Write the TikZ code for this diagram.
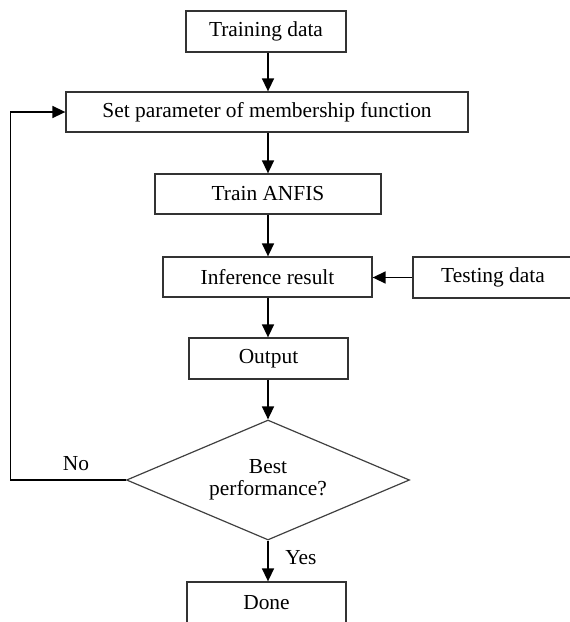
\documentclass[tikz,border=0pt]{standalone}
\usepackage{fontspec}
\setmainfont{Liberation Serif}
\usetikzlibrary{arrows.meta,shapes.geometric,calc}
\begin{document}
\begin{tikzpicture}[x=1pt,y=-1pt,
  every node/.style={font=\fontsize{21.4}{22}\selectfont, inner sep=0pt},
  procbox/.style={draw=black!80, line width=1.3pt, rectangle},
  decbox/.style={draw=black!75, line width=1.2pt, diamond, aspect=2.36, minimum width=283pt, minimum height=120pt, align=center},
  flow/.style={draw=black, line width=1.5pt, -{Triangle[length=13pt,width=12pt]}},
  lbl/.style={font=\fontsize{21.4}{22}\selectfont}]
\useasboundingbox (0,0) rectangle (570,622);
\node[procbox, minimum width=160pt, minimum height=41pt] (train) at (266,31.5) {Training data};
\node[procbox, minimum width=402pt, minimum height=40pt] (setp) at (267,112) {Set parameter of membership function};
\node[procbox, minimum width=226pt, minimum height=40pt] (anfis) at (268,194) {Train ANFIS};
\node[procbox, minimum width=209pt, minimum height=40pt] (infer) at (267.5,277) {Inference result};
\node[procbox, minimum width=160pt, minimum height=41pt] (test) at (493,277.5) {Testing data};
\node[procbox, minimum width=159pt, minimum height=41pt] (out) at (268.5,358.5) {Output};
\node[decbox] (dec) at (268,480) {Best\\performance?};
\node[procbox, minimum width=159pt, minimum height=41pt] (done) at (266.5,602.5) {Done};
\coordinate (loop) at (10.5,112);
\node[lbl] (no) at (76,464) {No};
\node[lbl] (yes) at (301,558) {Yes};
\draw[flow] (train.south -| dec.north) -- (setp.north -| dec.north);
\draw[flow] (setp.south -| dec.north) -- (anfis.north -| dec.north);
\draw[flow] (anfis.south -| dec.north) -- (infer.north -| dec.north);
\draw[flow] (infer.south -| dec.north) -- (out.north -| dec.north);
\draw[flow] (out.south -| dec.north) -- (dec.north);
\draw[flow] (dec.south) -- (done.north -| dec.south);
\draw[flow] (test.west) -- (infer.east |- test.west);
\draw[flow] (dec.west) -| (loop) -- (setp.west);
\end{tikzpicture}
\end{document}
